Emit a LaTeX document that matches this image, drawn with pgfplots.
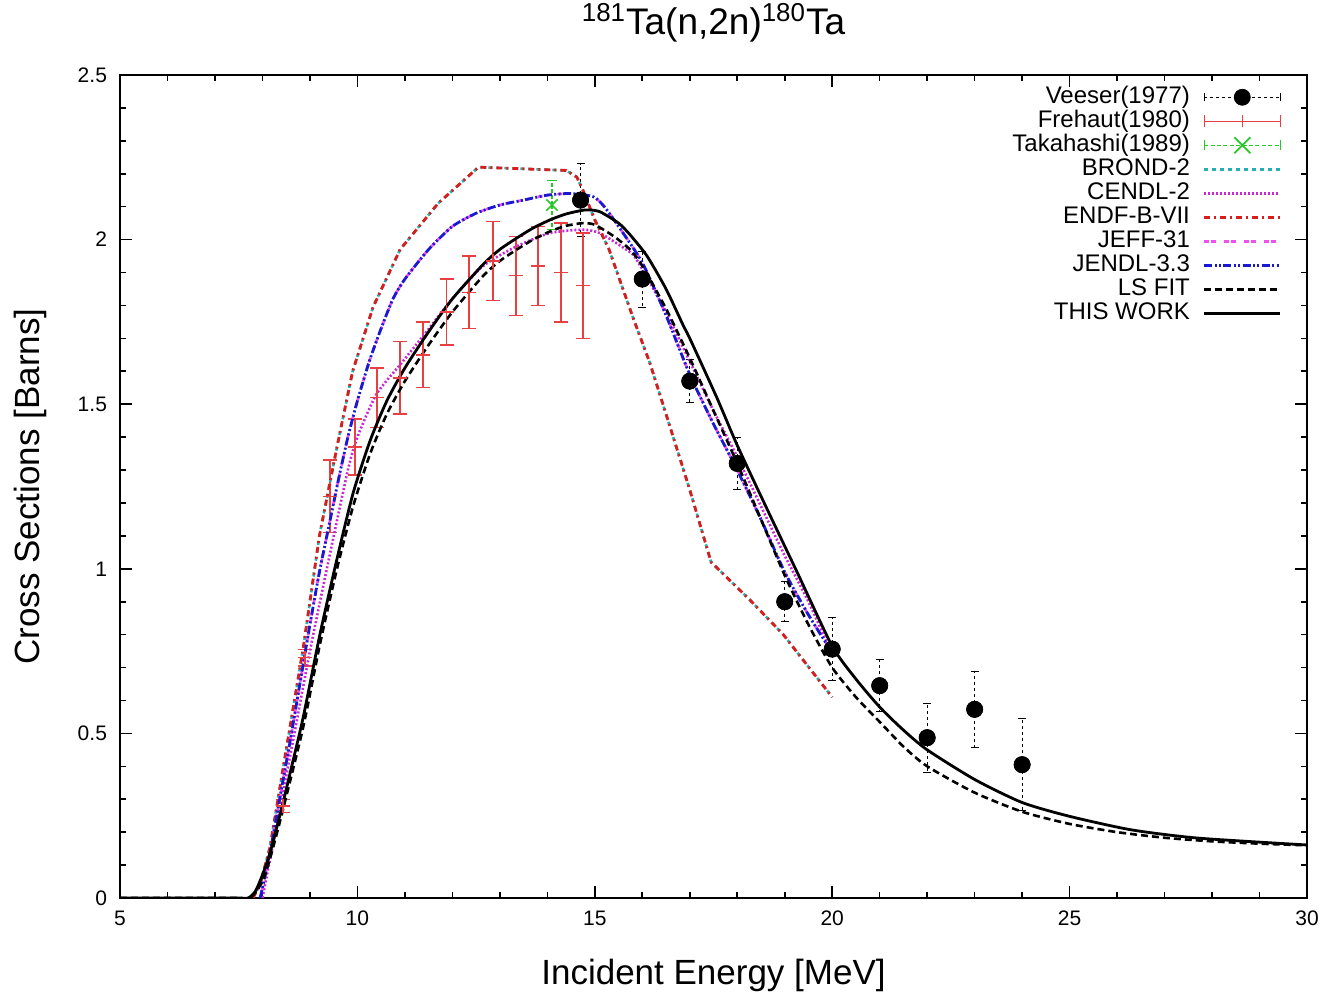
\documentclass[border=0pt]{standalone}
\usepackage{fontspec}
\setmainfont{Liberation Sans}
\usepackage{pgfplots}
\pgfplotsset{compat=1.18}
\usepackage{pgfplotstable}

\definecolor{frered}{RGB}{232,64,64}
\definecolor{takgreen}{RGB}{40,200,40}
\definecolor{brondc}{RGB}{40,175,175}
\definecolor{cendlm}{RGB}{200,40,210}
\definecolor{endfred}{RGB}{215,30,30}
\definecolor{jeffpink}{RGB}{240,80,240}
\definecolor{jendlb}{RGB}{25,25,210}

\pgfplotstableread{
x y e
14.7 2.12 0.11
16.0 1.88 0.085
17.0 1.57 0.065
18.0 1.32 0.08
19.0 0.90 0.06
20.0 0.756 0.095
21.0 0.645 0.078
22.0 0.487 0.105
23.0 0.573 0.115
24.0 0.405 0.14
}\veeser

\pgfplotstableread{
x y e
8.43 0.28 0.02
8.90 0.73 0.025
9.42 1.22 0.11
9.95 1.37 0.085
10.41 1.52 0.09
10.90 1.58 0.11
11.38 1.65 0.10
11.88 1.78 0.10
12.35 1.84 0.11
12.86 1.935 0.12
13.34 1.89 0.12
13.80 1.92 0.12
14.29 1.90 0.15
14.75 1.86 0.16
}\frehaut

\pgfplotstableread{
x y e
14.1 2.105 0.075
}\takahashi

\pgfplotstableread{
x y
7.8 0
7.95 0.04
8.16 0.155
8.5 0.45
8.86 0.76
9.2 1.10
9.57 1.37
9.9 1.60
10.33 1.795
10.9 1.97
11.7 2.11
12.55 2.22
14.4 2.21
14.62 2.19
14.75 2.15
15.0 2.06
15.3 1.97
15.8 1.765
16.16 1.625
16.5 1.47
17.0 1.24
17.45 1.02
18.27 0.905
18.97 0.80
20.0 0.61
}\endf

\pgfplotstableread{
x y
7.95 0
8.0 0.03
8.2 0.17
8.4 0.33
8.6 0.49
8.8 0.66
9.0 0.83
9.2 0.99
9.4 1.13
9.6 1.27
9.8 1.40
10.0 1.51
10.25 1.63
10.5 1.73
10.75 1.82
11.0 1.88
11.5 1.97
12.0 2.04
12.5 2.08
13.0 2.105
13.5 2.12
14.0 2.135
14.5 2.14
14.97 2.13
15.2 2.10
15.5 2.04
16.0 1.93
16.5 1.77
17.0 1.59
17.5 1.44
18.0 1.30
18.5 1.15
19.0 0.99
19.5 0.86
20.0 0.745
}\jendl

\pgfplotstableread{
x y
8.0 0
8.3 0.22
8.7 0.52
9.0 0.75
9.4 1.03
9.8 1.30
10.0 1.40
10.4 1.53
10.9 1.62
11.4 1.71
12.0 1.82
12.65 1.92
13.36 1.98
14.06 2.02
14.75 2.03
15.1 2.02
15.5 1.985
15.8 1.955
16.0 1.91
16.5 1.78
17.0 1.63
17.5 1.48
18.0 1.34
18.5 1.19
19.0 1.04
19.5 0.90
20.0 0.74
}\cendl

\pgfplotstableread{
x y
5 0
6 0
7 0
7.5 0
7.75 0
8.0 0.05
8.16 0.12
8.4 0.25
8.86 0.52
9.21 0.77
9.57 1.00
9.91 1.19
10.27 1.35
10.62 1.47
11.0 1.57
11.5 1.68
12.0 1.78
12.65 1.89
13.0 1.935
13.36 1.97
13.7 2.00
14.06 2.025
14.4 2.042
14.75 2.05
15.0 2.045
15.4 2.01
15.74 1.97
16.0 1.92
16.5 1.79
17.0 1.64
17.5 1.48
18.0 1.32
18.5 1.15
19.0 0.98
19.5 0.83
20.0 0.70
20.5 0.61
21.0 0.535
21.5 0.46
22.0 0.40
23.0 0.32
24.0 0.262
25.0 0.225
26.0 0.20
27.0 0.183
28.0 0.172
29.0 0.165
30.0 0.160
}\lsfit

\pgfplotstableread{
x y
5 0
6 0
7 0
7.5 0
7.7 0
7.85 0.02
8.0 0.07
8.16 0.137
8.4 0.27
8.6 0.39
8.86 0.55
9.21 0.80
9.57 1.03
9.91 1.23
10.27 1.39
10.62 1.51
11.0 1.61
11.5 1.72
12.0 1.82
12.65 1.925
13.0 1.97
13.36 2.005
13.7 2.035
14.06 2.06
14.4 2.078
14.8 2.09
15.1 2.085
15.5 2.05
15.74 2.015
16.1 1.95
16.5 1.85
16.86 1.74
17.0 1.70
17.57 1.52
18.0 1.375
18.6 1.19
19.26 0.99
20.0 0.765
20.5 0.665
21.0 0.58
21.5 0.51
22.0 0.45
23.0 0.36
24.0 0.29
25.0 0.248
26.3 0.207
27.7 0.182
30.0 0.161
}\thiswork

\begin{document}
\begin{tikzpicture}
\begin{axis}[
  scale only axis, width=593.5pt, height=411.5pt,
  xmin=5, xmax=30, ymin=0, ymax=2.5,
  xtick={5,10,15,20,25,30}, ytick={0,0.5,1,1.5,2,2.5},
  minor x tick num=4, minor y tick num=4,
  tick align=inside, major tick length=6pt, minor tick length=3pt,
  every tick/.style={black, line width=0.8pt},
  axis line style={line width=1pt},
  /pgf/number format/assume math mode=true,
  ticklabel style={font=\fontsize{10.5}{12}\selectfont},
  xticklabel style={yshift=-3pt},
  yticklabel style={xshift=-3pt},
  title={\textsuperscript{181}Ta(n,2n)\textsuperscript{180}Ta},
  title style={font=\fontsize{18.5}{20}\selectfont, at={(axis description cs:0.5,1.0486)}, anchor=center},
  xlabel={Incident Energy [MeV]}, ylabel={Cross Sections [Barns]},
  label style={font=\fontsize{17.5}{20}\selectfont},
  xlabel style={at={(axis description cs:0.5,-0.0936)}, anchor=center},
  ylabel style={at={(axis description cs:-0.0758,0.5)}, anchor=center},
  legend cell align=right, legend plot pos=right,
  legend style={at={(rel axis cs:0.979,0.988)}, anchor=north east, draw=none, fill=none,
    font=\fontsize{12}{12}\selectfont, inner sep=0pt, row sep=0pt,
    nodes={inner sep=0pt, text height=9pt, text depth=3pt},
    /tikz/every odd column/.append style={column sep=6.5pt}},
  legend image code/.code={\draw[#1] (0pt,0pt) -- (38pt,0pt);},
]
% Veeser
\addplot[black, only marks, mark=*, mark size=4pt,
  legend image code/.code={
    \draw[black, line width=0.5pt, dash pattern=on 1.5pt off 1.5pt] (0pt,0pt) -- (38pt,0pt);
    \draw[black, line width=0.5pt] (0pt,-2pt) -- (0pt,2pt) (38pt,-2pt) -- (38pt,2pt);
    \fill[black] (19pt,0pt) circle (4pt);},
  error bars/.cd, y dir=both, y explicit,
  error bar style={black, line width=0.5pt, dash pattern=on 1.5pt off 1.5pt},
  error mark options={black, solid, rotate=90, mark size=2pt, line width=0.5pt}]
  table[x=x, y=y, y error=e]{\veeser};
\addlegendentry{Veeser(1977)}
% Frehaut
\addplot[frered, only marks, mark=+, mark size=3.5pt, line width=0.7pt,
  legend image code/.code={
    \draw[frered, line width=0.7pt] (0pt,0pt) -- (38pt,0pt);
    \draw[frered, line width=0.7pt] (0pt,-3pt) -- (0pt,3pt) (19pt,-3pt) -- (19pt,3pt) (38pt,-3pt) -- (38pt,3pt);},
  error bars/.cd, y dir=both, y explicit,
  error bar style={frered, line width=0.7pt},
  error mark options={frered, rotate=90, mark size=3.5pt, line width=0.7pt}]
  table[x=x, y=y, y error=e]{\frehaut};
\addlegendentry{Frehaut(1980)}
% Takahashi
\addplot[takgreen, only marks, mark=x, mark size=4pt, line width=0.8pt,
  legend image code/.code={
    \draw[takgreen, line width=0.7pt, dash pattern=on 2pt off 1.2pt] (0pt,0pt) -- (38pt,0pt);
    \draw[takgreen, line width=0.7pt] (0pt,-2.5pt) -- (0pt,2.5pt) (38pt,-2.5pt) -- (38pt,2.5pt);
    \draw[takgreen, line width=0.9pt] (15pt,-4pt) -- (23pt,4pt) (15pt,4pt) -- (23pt,-4pt);},
  error bars/.cd, y dir=both, y explicit,
  error bar style={takgreen, line width=0.6pt, dash pattern=on 2pt off 1pt},
  error mark options={takgreen, solid, rotate=90, mark size=2.5pt, line width=0.6pt}]
  table[x=x, y=y, y error=e]{\takahashi};
\addlegendentry{Takahashi(1989)}
% BROND-2
\addplot[brondc, line width=1.3pt, dash pattern=on 2pt off 2pt] table[x=x, y=y]{\endf};
\addlegendentry{BROND-2}
% CENDL-2
\addplot[cendlm, line width=1.3pt, dash pattern=on 1pt off 1pt, smooth, tension=0.4] table[x=x, y=y]{\cendl};
\addlegendentry{CENDL-2}
% ENDF-B-VII
\addplot[endfred, line width=1.4pt, dash pattern=on 3pt off 2pt on 1pt off 2pt] table[x=x, y=y]{\endf};
\addlegendentry{ENDF-B-VII}
% JEFF-31
\addplot[jeffpink, line width=1.3pt, dash pattern=on 2.5pt off 1pt on 2.5pt off 4pt, smooth, tension=0.4] table[x=x, y=y]{\jendl};
\addlegendentry{JEFF-31}
% JENDL-3.3
\addplot[jendlb, line width=1.4pt, dash pattern=on 4pt off 1.2pt on 1pt off 1.2pt on 1pt off 1.2pt, smooth, tension=0.4] table[x=x, y=y]{\jendl};
\addlegendentry{JENDL-3.3}
% LS FIT
\addplot[black, line width=1.3pt, dash pattern=on 3.5pt off 2pt, smooth, tension=0.4] table[x=x, y=y]{\lsfit};
\addlegendentry{LS FIT}
% THIS WORK
\addplot[black, line width=1.4pt, smooth, tension=0.4] table[x=x, y=y]{\thiswork};
\addlegendentry{THIS WORK}
% Veeser markers on top
\addplot[black, only marks, mark=*, mark size=4pt, forget plot] table[x=x, y=y]{\veeser};
\end{axis}
\pgfresetboundingbox
\path[use as bounding box] ([xshift=-60pt,yshift=-50pt]current axis.south west) rectangle ([xshift=10pt,yshift=37.5pt]current axis.north east);
\end{tikzpicture}
\end{document}
